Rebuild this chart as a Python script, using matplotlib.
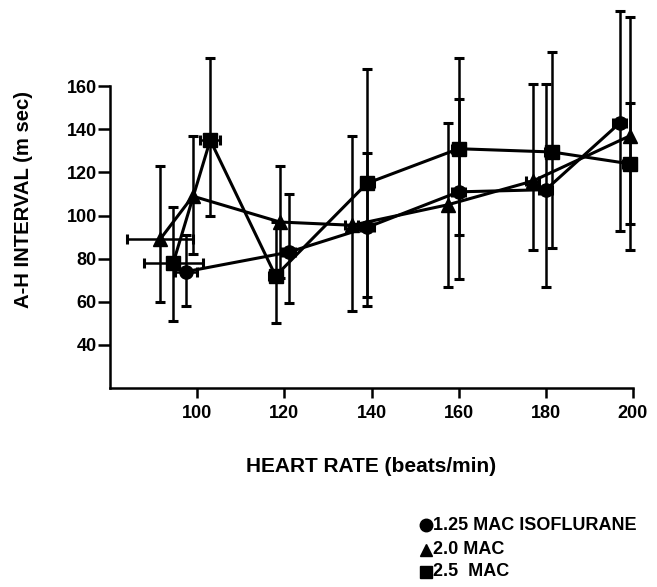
import matplotlib
matplotlib.use("Agg")
import matplotlib.pyplot as plt
from matplotlib.lines import Line2D
import numpy as np

plt.rcParams['font.family'] = ['Liberation Sans', 'DejaVu Sans']

# 1.25 MAC isoflurane (circles)
hr_125 = [97.5, 121, 139, 160, 180, 197]
ah_125 = [74, 83, 94.5, 111, 112, 143]
lo_125 = [58, 59.5, 58, 70.5, 67, 93]
hi_125 = [91, 110, 129, 154, 161, 195]
xerr_125 = [2.5, 1.5, 1.5, 1.5, 1.5, 1.5]

# 2.0 MAC (triangles)
hr_20 = [91.5, 99, 119, 135.5, 157.5, 177, 199.3]
ah_20 = [89, 109, 97, 95.5, 105, 116, 137]
lo_20 = [60, 82, 71, 55.5, 67, 84, 84]
hi_20 = [123, 137, 123, 137, 143, 161, 192]
xerr_20 = [7.5, 0, 0, 1.5, 0, 1.5, 0]

# 2.5 MAC (squares)
hr_25 = [94.5, 103, 118, 139, 160, 181.4, 199.3]
ah_25 = [78, 135, 72, 115, 131, 129.5, 124]
lo_25 = [51, 100, 50, 62, 91, 85, 96]
hi_25 = [104, 173, 97, 168, 173, 176, 152]
xerr_25 = [6.8, 2.3, 1.5, 1.5, 1.5, 1.5, 1.5]

x_ticks = [100, 120, 140, 160, 180, 200]
y_ticks = [40, 60, 80, 100, 120, 140, 160]

legend_labels = ['1.25 MAC ISOFLURANE', '2.0 MAC', '2.5  MAC']
legend_markers = ['o', '^', 's']

fig = plt.figure(figsize=(6.57, 5.87), dpi=100)
ax = fig.add_axes([110/657, (587-388)/587, 523/657, 388/587])

series = [
    (hr_125, ah_125, lo_125, hi_125, xerr_125, 'o'),
    (hr_20, ah_20, lo_20, hi_20, xerr_20, '^'),
    (hr_25, ah_25, lo_25, hi_25, xerr_25, 's'),
]
for hr, ah, lo, hi, xe, mk in series:
    ah_a = np.array(ah, dtype=float)
    yerr = [ah_a - np.array(lo), np.array(hi) - ah_a]
    ax.errorbar(hr, ah, yerr=yerr, xerr=xe, fmt='none', ecolor='black',
                elinewidth=1.8, capsize=3.5, capthick=2.2, clip_on=False)
    ax.plot(hr, ah, color='black', lw=2.2, marker=mk, markersize=9.5,
            markerfacecolor='black', markeredgecolor='black', clip_on=False)

ax.set_xlim(80, 200)
ax.set_ylim(20, 200)
ax.spines['top'].set_visible(False)
ax.spines['right'].set_visible(False)
ax.spines['left'].set_bounds(20, 160)
ax.spines['bottom'].set_bounds(80, 200)
for s in ['left', 'bottom']:
    ax.spines[s].set_linewidth(1.8)

ax.set_xticks(x_ticks)
ax.set_xticklabels([str(v) for v in x_ticks], fontweight='bold', fontsize=13)
ax.set_yticks(y_ticks)
ax.set_yticklabels([str(v) for v in y_ticks], fontweight='bold', fontsize=13)
ax.tick_params(axis='y', direction='out', length=8.5, width=1.8, pad=1)
ax.tick_params(axis='x', direction='out', length=7, width=1.8, pad=5)

fig.text(371/657, 1-467/587, 'HEART RATE (beats/min)', ha='center', va='center',
         fontsize=15, fontweight='bold')
fig.text(24/657, 1-200/587, 'A-H INTERVAL (m sec)', ha='center', va='center',
         rotation=90, fontsize=14.6, fontweight='bold')

legend_y = [525, 550, 572]
for txt, mk, yy in zip(legend_labels, legend_markers, legend_y):
    fig.add_artist(Line2D([426/657], [1-yy/587], marker=mk, markersize=9,
                          color='black', transform=fig.transFigure))
    fig.text(433/657, 1-yy/587, txt, ha='left', va='center', fontsize=13,
             fontweight='bold')

fig.savefig('out.png', dpi=100)
